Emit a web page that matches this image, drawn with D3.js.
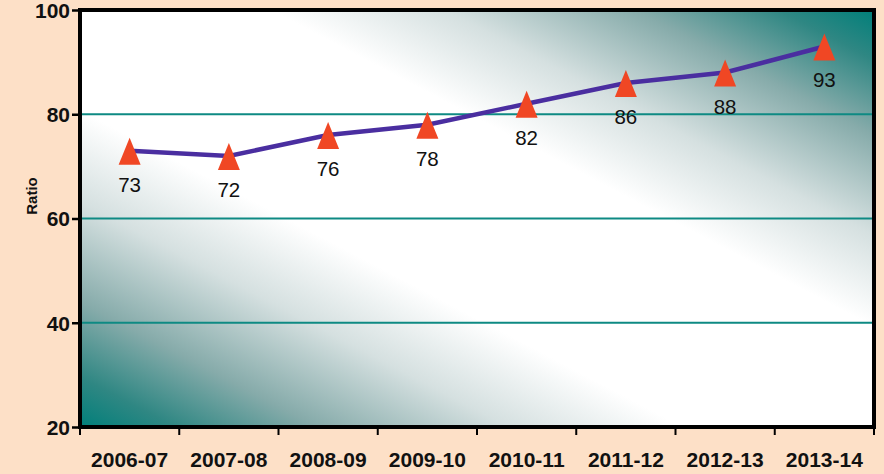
<!DOCTYPE html>
<html><head><meta charset="utf-8">
<script src="https://cdn.jsdelivr.net/npm/d3@7"></script>
<style>html,body{margin:0;padding:0;background:#FDE0C7;}svg{display:block;}</style>
</head><body>
<script>
const categories = ["2006-07","2007-08","2008-09","2009-10","2010-11","2011-12","2012-13","2013-14"];
const ratioValues = [73,72,76,78,82,86,88,93];
const yTicks = [20,40,60,80,100];
const gridValues = [40,60,80];

const W = 884, H = 474;
const m = {left:80, top:10, right:10, bottom:47};
const FONT = "Liberation Sans, Arial, sans-serif";
const svg = d3.select("body").append("svg").attr("width",W).attr("height",H);
svg.append("rect").attr("width",W).attr("height",H).attr("fill","#FDE0C7");

const x = d3.scaleBand().domain(categories).range([m.left, W-m.right]);
const y = d3.scaleLinear().domain([20,100]).range([H-m.bottom, m.top]);

const defs = svg.append("defs");
const g = defs.append("linearGradient").attr("id","bg").attr("x1",0).attr("y1",1).attr("x2",1).attr("y2",0);
[[0,"#007F7A"],[0.06,"#2F8783"],[0.15,"#86ABAA"],[0.27,"#D5E0E0"],[0.38,"#FFFFFF"],
 [0.62,"#FFFFFF"],[0.73,"#D5E0E0"],[0.85,"#86ABAA"],[0.94,"#2F8783"],[1,"#007F7A"]]
 .forEach(s=>g.append("stop").attr("offset",s[0]).attr("stop-color",s[1]));

const pw = W-m.right-m.left, ph = H-m.bottom-m.top;
svg.append("rect").attr("x",m.left).attr("y",m.top).attr("width",pw).attr("height",ph).attr("fill","url(#bg)");

svg.append("g").selectAll("line").data(gridValues).join("line")
  .attr("x1",m.left).attr("x2",W-m.right).attr("y1",d=>y(d)).attr("y2",d=>y(d))
  .attr("stroke","#0E8A83").attr("stroke-width",1.8);

// frame
svg.append("rect").attr("x",m.left).attr("y",m.top).attr("width",pw).attr("height",ph)
  .attr("fill","none").attr("stroke","#000").attr("stroke-width",4);

// axes
const yAxis = svg.append("g").attr("transform",`translate(${m.left},0)`)
  .call(d3.axisLeft(y).tickValues(yTicks).tickSize(8).tickPadding(2));
yAxis.select(".domain").remove();
yAxis.selectAll("line").attr("stroke","#000").attr("stroke-width",2.5);
yAxis.selectAll("text").attr("font-family",FONT).attr("font-weight","bold").attr("font-size",21).attr("fill","#111").attr("dy","0.35em");

const xTickVals = d3.range(categories.length+1);
const xAxis = svg.append("g").attr("transform",`translate(0,${H-m.bottom})`);
xAxis.selectAll("line").data(xTickVals).join("line")
  .attr("x1",i=>m.left + i*x.step()).attr("x2",i=>m.left + i*x.step())
  .attr("y1",0).attr("y2",8).attr("stroke","#000").attr("stroke-width",2);
xAxis.selectAll("text").data(categories).join("text")
  .attr("x",d=>x(d)+x.bandwidth()/2).attr("y",40)
  .attr("text-anchor","middle")
  .attr("font-family",FONT).attr("font-weight","bold").attr("font-size",21).attr("fill","#111")
  .text(d=>d);

svg.append("text").attr("transform",`translate(37,196) rotate(-90)`)
  .attr("text-anchor","middle").attr("font-family",FONT)
  .attr("font-weight","bold").attr("font-size",15).attr("fill","#111").text("Ratio");

const cx = d => x(d)+x.bandwidth()/2;
const data = categories.map((c,i)=>({c, v:ratioValues[i]}));

svg.append("path").datum(data)
  .attr("d", d3.line().x(d=>cx(d.c)).y(d=>y(d.v)))
  .attr("fill","none").attr("stroke","#4A2EA0").attr("stroke-width",4.5);

svg.append("g").selectAll("path").data(data).join("path")
  .attr("transform",d=>`translate(${cx(d.c)},${y(d.v)})`)
  .attr("d","M0,-13 L11,14 L-11,14 Z").attr("fill","#F04724");

svg.append("g").selectAll("text").data(data).join("text")
  .attr("x",d=>cx(d.c)).attr("y",d=>y(d.v)+41)
  .attr("text-anchor","middle").attr("font-family",FONT)
  .attr("font-size",20.5).attr("fill","#111").text(d=>d.v);
</script>
</body></html>
